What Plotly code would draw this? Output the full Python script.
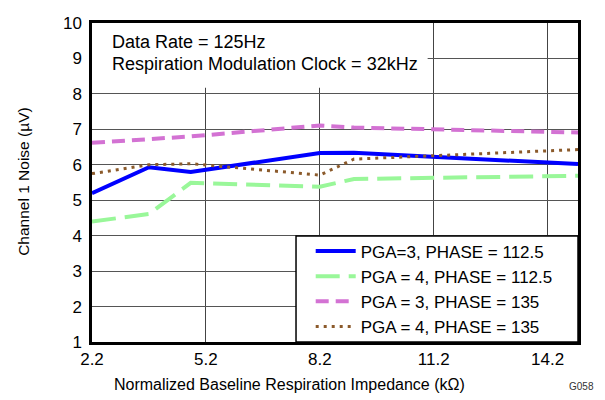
import plotly.graph_objects as go

# impedance (kOhm) sample points
impedance = [2.2, 3.7, 4.8, 8.2, 9.1, 15.0]

pga3_112 = [5.20, 5.93, 5.80, 6.33, 6.34, 6.02]
pga4_112 = [4.40, 4.61, 5.49, 5.38, 5.60, 5.69]
pga3_135 = [6.62, 6.71, 6.80, 7.11, 7.05, 6.91]
pga4_135 = [5.75, 6.00, 6.03, 5.71, 6.16, 6.43]

series_names = [
    "PGA=3, PHASE = 112.5",
    "PGA = 4, PHASE = 112.5",
    "PGA = 3, PHASE = 135",
    "PGA = 4, PHASE = 135",
]
x_ticks = [2.2, 5.2, 8.2, 11.2, 14.2]
y_ticks = [1, 2, 3, 4, 5, 6, 7, 8, 9, 10]

FONT = "Liberation Sans, Arial, sans-serif"

fig = go.Figure()

styles = [
    dict(color="#0000ff", width=4, dash="solid"),
    dict(color="#99f799", width=4, dash="24px,9px"),
    dict(color="#d372d3", width=4, dash="13px,7px"),
    dict(color="#8b5a2b", width=3, dash="3px,5px"),
]
for name, ys, st in zip(series_names, [pga3_112, pga4_112, pga3_135, pga4_135], styles):
    fig.add_trace(go.Scatter(
        x=impedance, y=ys,
        mode="lines",
        name=name,
        line=st,
    ))

# white box behind the condition text
fig.add_shape(
    type="rect", xref="x", yref="y",
    x0=2.2, x1=11.04, y0=8.17, y1=10,
    fillcolor="white", line=dict(width=0), layer="between",
)
# legend frame
fig.add_shape(
    type="rect", xref="paper", yref="paper",
    x0=0.4198, x1=1, y0=0, y1=0.3323,
    fillcolor="white", line=dict(color="black", width=1.5), layer="above",
)

fig.add_annotation(
    text="Data Rate = 125Hz", xref="x domain", yref="y domain",
    x=0.037, y=0.941, xanchor="left", yanchor="middle", showarrow=False,
    font=dict(family=FONT, size=18, color="black"),
)
fig.add_annotation(
    text="Respiration Modulation Clock = 32kHz", xref="x domain", yref="y domain",
    x=0.037, y=0.873, xanchor="left", yanchor="middle", showarrow=False,
    font=dict(family=FONT, size=18, color="black"),
)
fig.add_annotation(
    text="Channel 1 Noise (\u00b5V)", xref="paper", yref="paper",
    x=-0.14, y=0.505, xanchor="center", yanchor="middle", textangle=-90,
    showarrow=False, font=dict(family=FONT, size=15.5, color="black"),
)
fig.add_annotation(
    text="Normalized Baseline Respiration Impedance (k\u03a9)", xref="paper", yref="paper",
    x=0.407, y=-0.132, xanchor="center", yanchor="middle",
    showarrow=False, font=dict(family=FONT, size=16, color="black"),
)
fig.add_annotation(
    text="G058", xref="paper", yref="paper",
    x=1.008, y=-0.14, xanchor="center", yanchor="middle",
    showarrow=False, font=dict(family=FONT, size=10, color="#333"),
)

# page body adds an 8px offset, so the figure is drawn 8px smaller
fig.update_layout(
    width=597, height=392,
    margin=dict(l=84, r=27, t=6, b=58),
    plot_bgcolor="white", paper_bgcolor="white",
    font=dict(family=FONT, size=17, color="black"),
    legend=dict(
        x=0.45, y=0.166, xanchor="left", yanchor="middle",
        bgcolor="rgba(0,0,0,0)", borderwidth=0,
        font=dict(family=FONT, size=17, color="black"),
        itemwidth=40,
    ),
    xaxis=dict(
        range=[2.2, 15], tickvals=x_ticks, ticktext=[f"{v:.1f}" for v in x_ticks],
        showgrid=True, gridcolor="#444", gridwidth=1,
        showline=True, mirror=True, linecolor="black", linewidth=2.5,
        ticks="", zeroline=False, ticklabeloverflow="allow",
    ),
    yaxis=dict(
        range=[1, 10], tickvals=y_ticks,
        showgrid=True, gridcolor="#555", gridwidth=1,
        showline=True, mirror=True, linecolor="black", linewidth=2.5,
        ticks="", zeroline=False, ticklabelstandoff=4, ticklabeloverflow="allow",
    ),
)

fig.write_html("out.html")
